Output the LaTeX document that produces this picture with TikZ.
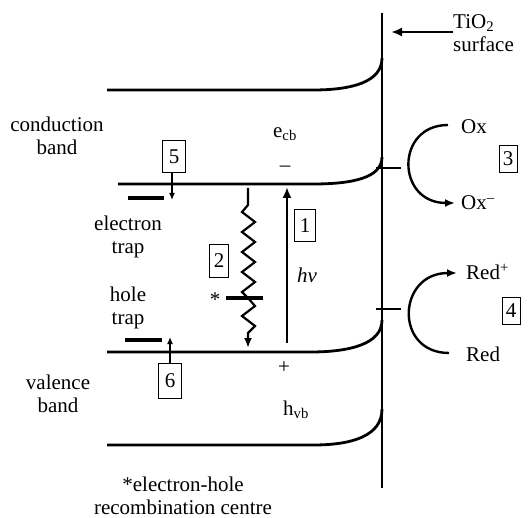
\documentclass[tikz,border=0pt]{standalone}
\usepackage{fontspec}
\setmainfont{Liberation Serif}
\usetikzlibrary{arrows.meta}
\begin{document}
\begin{tikzpicture}[x=1pt,y=-1pt,
  txt/.style={font=\fontsize{21}{23}\selectfont, align=center, inner sep=0pt},
  numbox/.style={draw, line width=1pt, font=\fontsize{21}{23}\selectfont, inner sep=0pt, minimum width=21pt, minimum height=32pt},
  smallbox/.style={numbox, minimum width=18pt, minimum height=27pt},
  band/.style={line width=2.8pt},
  trapline/.style={line width=4pt},
  bigarrow/.style={line width=2.6pt, -{Latex[length=11pt,width=9pt]}},
  smallarrow/.style={line width=1.5pt, -{Latex[length=7pt,width=6pt]}},
  arcarrow/.style={line width=2.4pt, -{Latex[length=10pt,width=8pt]}}
]
\useasboundingbox (0,0) rectangle (529,518);

% surface line
\coordinate (stop) at (382,13);
\coordinate (sbot) at (382,488);
\draw[line width=2.8pt] (stop) -- (sbot);

% bands
\draw[band] (107,90) -- (313,90) .. controls (352,90) and (382,82) .. (382,58);
\draw[band] (118,184) -- (313,184) .. controls (352,184) and (382,178) .. (382,157);
\draw[band] (107,352) -- (310,352) .. controls (350,352) and (382,344) .. (382,320);
\draw[band] (107,445) -- (313,445) .. controls (352,445) and (382,436) .. (382,409);

% surface ticks
\coordinate (tk1a) at (376,168); \coordinate (tk1b) at (401,168);
\coordinate (tk2a) at (376,309); \coordinate (tk2b) at (401,309);
\draw[line width=2.4pt] (tk1a) -- (tk1b);
\draw[line width=2.4pt] (tk2a) -- (tk2b);

% TiO2 label and arrow
\node[txt, anchor=west, align=left] (tio2) at (453,33) {TiO\textsubscript{2}\\surface};
\coordinate (tiotip) at (391,32);
\draw[line width=2.4pt, -{Latex[length=11pt,width=9pt]}] (tio2.west |- 0,32) -- (tiotip);

% texts
\node[txt] (cb) at (57,136) {conduction\\band};
\node[txt] (ecb) at (285,134) {e\textsubscript{cb}};
\node[txt] (minus) at (285,169) {–};
\node[txt] (etrap) at (128,237) {electron\\trap};
\node[txt] (htrap) at (128,308) {hole\\trap};
\node[txt] (vb) at (58,394) {valence\\band};
\node[txt] (plus) at (284,368) {+};
\node[txt] (hvb) at (296,410) {h\textsubscript{vb}};
\node[txt] (star) at (215,300) {*};
\node[txt] (rc) at (183,496) {*electron-hole\\recombination centre};
\node[txt] (hnu) at (307,275) {\textit{hν}};

% boxes
\node[numbox] (b1) at (305,226) {1};
\node[numbox, minimum width=19pt] (b2) at (219,261) {2};
\node[smallbox] (b3) at (508,159) {3};
\node[smallbox] (b4) at (511,311) {4};
\node[numbox, minimum width=23pt] (b5) at (174,157) {5};
\node[numbox, minimum width=23pt, minimum height=35pt] (b6) at (170,381) {6};

% traps
\coordinate (et1) at (128,198); \coordinate (et2) at (164,198);
\coordinate (ht1) at (125,340); \coordinate (ht2) at (162,340);
\draw[trapline] (et1) -- (et2);
\draw[trapline] (ht1) -- (ht2);
\coordinate (t5) at (172,200);
\draw[smallarrow] (b5.south -| t5) -- (t5);
\coordinate (t6) at (170,337);
\draw[smallarrow] (b6.north) -- (t6);

% arrow 1 (excitation)
\coordinate (a1s) at (287,343);
\coordinate (a1e) at (287,187);
\draw[bigarrow] (a1s) -- (a1e);

% zigzag (2) recombination
\coordinate (z0) at (248,188);
\coordinate (zend) at (248,348);
\draw[line width=2.2pt, line join=miter, -{Latex[length=10pt,width=8pt]}] (z0) -- (248,205) -- (242,212) -- (255,222) -- (242,232) -- (255,242) -- (242,252) -- (255,262) -- (242,272) -- (255,282) -- (242,292) -- (248,298) -- (255,306) -- (242,316) -- (255,326) -- (248,333) -- (zend);
\coordinate (rc1) at (226,298); \coordinate (rc2) at (263,298);
\draw[trapline] (rc1) -- (rc2);

% Ox / Ox- and Red / Red+
\node[txt, anchor=west] (ox) at (461,127) {Ox};
\node[txt, anchor=west] (oxm) at (461,203) {Ox\textsuperscript{–}};
\node[txt, anchor=west] (redp) at (466,272) {Red\textsuperscript{+}};
\node[txt, anchor=west] (red) at (466,354) {Red};
\coordinate (oxs) at (448,125);
\coordinate (oxe) at (455,203);
\draw[arcarrow] (oxs) .. controls (395,125) and (396,203) .. (oxe);
\coordinate (rds) at (449,353);
\coordinate (rde) at (457,273);
\draw[arcarrow] (rds) .. controls (394,353) and (397,273) .. (rde);
\end{tikzpicture}
\end{document}
